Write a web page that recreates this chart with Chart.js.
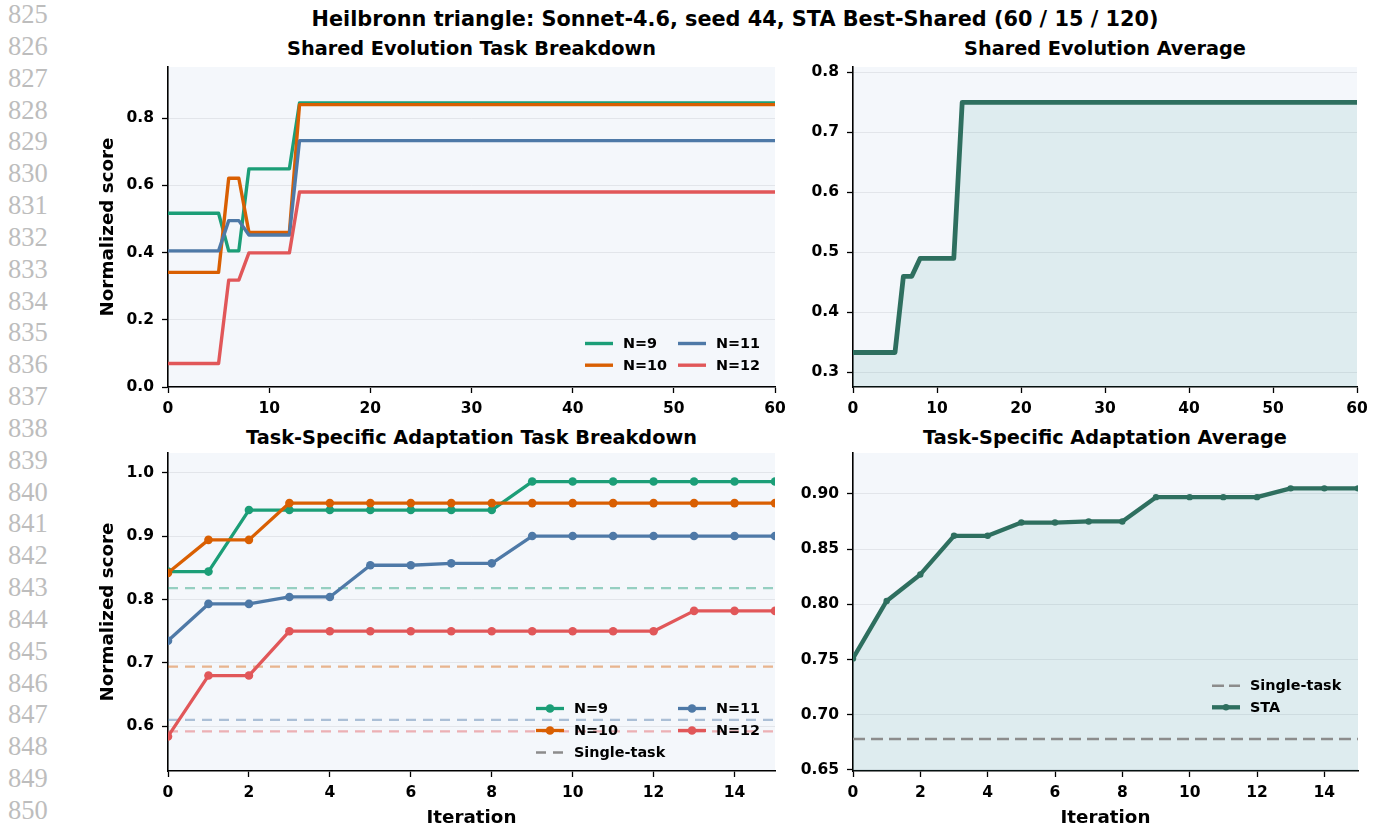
<!DOCTYPE html>
<html>
<head>
<meta charset="utf-8">
<script src="https://cdn.jsdelivr.net/npm/chart.js@4.4.1/dist/chart.umd.min.js"></script>
<style>
  body { margin: 0; width: 1380px; height: 831px; background: #fff; position: relative; overflow: hidden;
         font-family: "DejaVu Sans", sans-serif; }
  canvas { position: absolute; }
  .title { position: absolute; font-weight: bold; white-space: nowrap; line-height: 1;
           transform: translate(-50%, -50%); color: #000; }
  .suptitle { font-size: 20.8px; }
  .subtitle { font-size: 19.3px; }
  .lineno { position: absolute; left: 8px; font: 26.5px "Liberation Serif", serif; line-height: 26px;
            height: 26px; color: #bdbdbd; }
</style>
</head>
<body>
<div id="line-numbers"></div>

<div class="title suptitle" style="left:735px; top:19px">Heilbronn triangle: Sonnet-4.6, seed 44, STA Best-Shared (60 / 15 / 120)</div>
<div class="title subtitle" style="left:471.5px; top:48.5px">Shared Evolution Task Breakdown</div>
<div class="title subtitle" style="left:1105px; top:48.5px">Shared Evolution Average</div>
<div class="title subtitle" style="left:471.5px; top:437.5px">Task-Specific Adaptation Task Breakdown</div>
<div class="title subtitle" style="left:1105px; top:437.5px">Task-Specific Adaptation Average</div>

<canvas id="shared-breakdown" width="700" height="363" style="left:90px; top:57px"></canvas>
<canvas id="shared-average" width="582" height="363" style="left:795px; top:57px"></canvas>
<canvas id="sta-breakdown" width="700" height="388" style="left:90px; top:443px"></canvas>
<canvas id="sta-average" width="583" height="388" style="left:795px; top:443px"></canvas>

<script>
// Page line numbers in the margin
const LINE_NUMBERS = [825, 826, 827, 828, 829, 830, 831, 832, 833, 834, 835, 836, 837,
                      838, 839, 840, 841, 842, 843, 844, 845, 846, 847, 848, 849, 850];

// Task series
const SERIES_NAMES = ['N=9', 'N=10', 'N=11', 'N=12'];
const SERIES_COLORS = ['#1b9e77', '#d95f02', '#4e79a7', '#e15759'];
const AVG_COLOR = '#2e6f5f';

// Shared evolution (60 iterations)
const SHARED_ITERATIONS = [0, 1, 2, 3, 4, 5, 6, 7, 8, 9, 10, 11, 12, 13, 14, 15, 16, 17, 18, 19, 20,
    21, 22, 23, 24, 25, 26, 27, 28, 29, 30, 31, 32, 33, 34, 35, 36, 37, 38, 39, 40,
    41, 42, 43, 44, 45, 46, 47, 48, 49, 50, 51, 52, 53, 54, 55, 56, 57, 58, 59, 60];
const SHARED_N9 = [0.517, 0.517, 0.517, 0.517, 0.517, 0.517, 0.405, 0.405, 0.649, 0.649,
    0.649, 0.649, 0.649, 0.845, 0.845, 0.845, 0.845, 0.845, 0.845, 0.845,
    0.845, 0.845, 0.845, 0.845, 0.845, 0.845, 0.845, 0.845, 0.845, 0.845,
    0.845, 0.845, 0.845, 0.845, 0.845, 0.845, 0.845, 0.845, 0.845, 0.845,
    0.845, 0.845, 0.845, 0.845, 0.845, 0.845, 0.845, 0.845, 0.845, 0.845,
    0.845, 0.845, 0.845, 0.845, 0.845, 0.845, 0.845, 0.845, 0.845, 0.845, 0.845];
const SHARED_N10 = [0.341, 0.341, 0.341, 0.341, 0.341, 0.341, 0.621, 0.621, 0.460, 0.460,
    0.460, 0.460, 0.460, 0.840, 0.840, 0.840, 0.840, 0.840, 0.840, 0.840,
    0.840, 0.840, 0.840, 0.840, 0.840, 0.840, 0.840, 0.840, 0.840, 0.840,
    0.840, 0.840, 0.840, 0.840, 0.840, 0.840, 0.840, 0.840, 0.840, 0.840,
    0.840, 0.840, 0.840, 0.840, 0.840, 0.840, 0.840, 0.840, 0.840, 0.840,
    0.840, 0.840, 0.840, 0.840, 0.840, 0.840, 0.840, 0.840, 0.840, 0.840, 0.840];
const SHARED_N11 = [0.405, 0.405, 0.405, 0.405, 0.405, 0.405, 0.495, 0.495, 0.452, 0.452,
    0.452, 0.452, 0.452, 0.733, 0.733, 0.733, 0.733, 0.733, 0.733, 0.733,
    0.733, 0.733, 0.733, 0.733, 0.733, 0.733, 0.733, 0.733, 0.733, 0.733,
    0.733, 0.733, 0.733, 0.733, 0.733, 0.733, 0.733, 0.733, 0.733, 0.733,
    0.733, 0.733, 0.733, 0.733, 0.733, 0.733, 0.733, 0.733, 0.733, 0.733,
    0.733, 0.733, 0.733, 0.733, 0.733, 0.733, 0.733, 0.733, 0.733, 0.733, 0.733];
const SHARED_N12 = [0.070, 0.070, 0.070, 0.070, 0.070, 0.070, 0.318, 0.318, 0.399, 0.399,
    0.399, 0.399, 0.399, 0.580, 0.580, 0.580, 0.580, 0.580, 0.580, 0.580,
    0.580, 0.580, 0.580, 0.580, 0.580, 0.580, 0.580, 0.580, 0.580, 0.580,
    0.580, 0.580, 0.580, 0.580, 0.580, 0.580, 0.580, 0.580, 0.580, 0.580,
    0.580, 0.580, 0.580, 0.580, 0.580, 0.580, 0.580, 0.580, 0.580, 0.580,
    0.580, 0.580, 0.580, 0.580, 0.580, 0.580, 0.580, 0.580, 0.580, 0.580, 0.580];
const SHARED_AVG = [0.333, 0.333, 0.333, 0.333, 0.333, 0.333, 0.460, 0.460, 0.490, 0.490,
    0.490, 0.490, 0.490, 0.750, 0.750, 0.750, 0.750, 0.750, 0.750, 0.750,
    0.750, 0.750, 0.750, 0.750, 0.750, 0.750, 0.750, 0.750, 0.750, 0.750,
    0.750, 0.750, 0.750, 0.750, 0.750, 0.750, 0.750, 0.750, 0.750, 0.750,
    0.750, 0.750, 0.750, 0.750, 0.750, 0.750, 0.750, 0.750, 0.750, 0.750,
    0.750, 0.750, 0.750, 0.750, 0.750, 0.750, 0.750, 0.750, 0.750, 0.750, 0.750];

// Task-specific adaptation (15 iterations)
const STA_ITERATIONS = [0, 1, 2, 3, 4, 5, 6, 7, 8, 9, 10, 11, 12, 13, 14, 15];
const STA_N9  = [0.844, 0.844, 0.941, 0.941, 0.941, 0.941, 0.941, 0.941, 0.941, 0.986, 0.986, 0.986, 0.986, 0.986, 0.986, 0.986];
const STA_N10 = [0.842, 0.894, 0.894, 0.952, 0.952, 0.952, 0.952, 0.952, 0.952, 0.952, 0.952, 0.952, 0.952, 0.952, 0.952, 0.952];
const STA_N11 = [0.735, 0.793, 0.793, 0.804, 0.804, 0.854, 0.854, 0.857, 0.857, 0.900, 0.900, 0.900, 0.900, 0.900, 0.900, 0.900];
const STA_N12 = [0.584, 0.680, 0.680, 0.750, 0.750, 0.750, 0.750, 0.750, 0.750, 0.750, 0.750, 0.750, 0.750, 0.782, 0.782, 0.782];
const STA_AVG = [0.751, 0.803, 0.827, 0.862, 0.862, 0.874, 0.874, 0.875, 0.875, 0.897, 0.897, 0.897, 0.897, 0.905, 0.905, 0.905];
const SINGLE_TASK = [0.818, 0.694, 0.610, 0.592];
const SINGLE_TASK_AVG = 0.678;

// Tick values
const SHARED_X_TICKS = [0, 10, 20, 30, 40, 50, 60];
const STA_X_TICKS = [0, 2, 4, 6, 8, 10, 12, 14];
const SHARED_BREAKDOWN_Y_TICKS = [0.0, 0.2, 0.4, 0.6, 0.8];
const SHARED_AVG_Y_TICKS = [0.3, 0.4, 0.5, 0.6, 0.7, 0.8];
const STA_BREAKDOWN_Y_TICKS = [0.6, 0.7, 0.8, 0.9, 1.0];
const STA_AVG_Y_TICKS = [0.65, 0.70, 0.75, 0.80, 0.85, 0.90];

// Margin line numbers
const lineBox = document.getElementById('line-numbers');
LINE_NUMBERS.forEach((n, i) => {
    const div = document.createElement('div');
    div.className = 'lineno';
    div.style.top = (14 + i * 31.84 - 13) + 'px';
    div.textContent = n;
    lineBox.appendChild(div);
});

// Fills the axes area with the light background
const plotBackground = {
    id: 'plotBackground',
    beforeDraw(chart, args, opts) {
        const { ctx, chartArea: a } = chart;
        ctx.save();
        ctx.fillStyle = opts.color;
        ctx.fillRect(a.left, a.top, a.right - a.left, a.bottom - a.top);
        ctx.restore();
    }
};

// Frameless legend in the lower right corner, filled column by column
const cornerLegend = {
    id: 'cornerLegend',
    afterDatasetsDraw(chart, args, opts) {
        if (!opts || !opts.items) return;
        const { ctx, chartArea } = chart;
        const x0 = chartArea.right - opts.right;
        const y0 = chartArea.bottom - opts.bottom;
        ctx.save();
        ctx.font = 'bold 14.4px "DejaVu Sans"';
        ctx.textBaseline = 'middle';
        ctx.textAlign = 'left';
        opts.items.forEach((item, i) => {
            const x = x0 + Math.floor(i / opts.rows) * opts.colWidth;
            const y = y0 + (i % opts.rows) * opts.rowHeight;
            ctx.strokeStyle = item.color;
            ctx.lineWidth = item.width;
            ctx.setLineDash(item.dash || []);
            ctx.beginPath();
            ctx.moveTo(x, y);
            ctx.lineTo(x + 28, y);
            ctx.stroke();
            ctx.setLineDash([]);
            if (item.radius) {
                ctx.fillStyle = item.color;
                ctx.beginPath();
                ctx.arc(x + 14, y, item.radius, 0, Math.PI * 2);
                ctx.fill();
            }
            ctx.fillStyle = '#000';
            ctx.fillText(item.label, x + 38, y + 1);
        });
        ctx.restore();
    }
};

const tickFont = { family: '"DejaVu Sans"', size: 15.5, weight: 'bold' };
const labelFont = { family: '"DejaVu Sans"', size: 18.3, weight: 'bold', lineHeight: 1.2 };

function buildChart(canvasId, cfg) {
    return new Chart(document.getElementById(canvasId), {
        type: 'line',
        data: { labels: cfg.labels, datasets: cfg.datasets },
        options: {
            responsive: false,
            animation: false,
            devicePixelRatio: 1,
            layout: { padding: { top: 10, right: cfg.rightPad, left: 0, bottom: 0 } },
            elements: { line: { tension: 0, borderJoinStyle: 'round' } },
            plugins: {
                legend: { display: false },
                tooltip: { enabled: false },
                filler: { drawTime: 'beforeDatasetsDraw' },
                plotBackground: { color: '#f4f7fb' },
                cornerLegend: cfg.legend
            },
            scales: {
                x: {
                    type: 'linear',
                    min: cfg.xMin,
                    max: cfg.xMax,
                    bounds: 'data',
                    afterBuildTicks: s => { s.ticks = cfg.xTicks.map(v => ({ value: v })); },
                    afterFit: s => {
                        s.height = cfg.xAxisHeight;
                        s.paddingLeft = 0;
                        s.paddingRight = 0;
                    },
                    ticks: { autoSkip: false, maxRotation: 0, padding: 7, font: tickFont, color: '#000',
                             callback: v => String(v) },
                    grid: { drawOnChartArea: false, tickLength: 6, tickColor: '#000', tickWidth: 1.3 },
                    border: { color: '#000', width: 1.6 },
                    title: cfg.xTitle
                        ? { display: true, text: cfg.xTitle, font: labelFont, color: '#000', padding: { top: 0, bottom: 1.5 } }
                        : { display: false }
                },
                y: {
                    type: 'linear',
                    min: cfg.yMin,
                    max: cfg.yMax,
                    bounds: 'data',
                    afterBuildTicks: s => { s.ticks = cfg.yTicks.map(v => ({ value: v })); },
                    afterFit: s => {
                        s.width = cfg.yAxisWidth;
                        s.paddingTop = 0;
                        s.paddingBottom = 0;
                    },
                    ticks: { padding: 8, font: tickFont, color: '#000',
                             callback: v => v.toFixed(cfg.yDecimals) },
                    grid: { color: '#e2e5ea', lineWidth: 1, tickLength: 6, tickColor: '#000', tickWidth: 1.3 },
                    border: { color: '#000', width: 1.6 },
                    title: cfg.yTitle
                        ? { display: true, text: cfg.yTitle, font: labelFont, color: '#000', padding: { top: 7.5, bottom: 0 } }
                        : { display: false }
                }
            }
        },
        plugins: [plotBackground, cornerLegend]
    });
}

// Later series are drawn on top, like the original plotting order
function taskDatasets(seriesList, width, radius) {
    return seriesList.map((values, i) => ({
        label: SERIES_NAMES[i],
        data: values,
        borderColor: SERIES_COLORS[i],
        backgroundColor: SERIES_COLORS[i],
        borderWidth: width,
        pointRadius: radius,
        pointBorderWidth: 0,
        pointBackgroundColor: SERIES_COLORS[i],
        fill: false,
        order: seriesList.length - i
    }));
}

// Shared evolution task breakdown
buildChart('shared-breakdown', {
    labels: SHARED_ITERATIONS,
    datasets: taskDatasets([SHARED_N9, SHARED_N10, SHARED_N11, SHARED_N12], 3.4, 0),
    xMin: 0, xMax: 60, xTicks: SHARED_X_TICKS, xAxisHeight: 33,
    yMin: 0, yMax: 0.952, yTicks: SHARED_BREAKDOWN_Y_TICKS, yDecimals: 1, yAxisWidth: 78,
    yTitle: 'Normalized score', rightPad: 15,
    legend: {
        right: 190, bottom: 43.5, rows: 2, colWidth: 93, rowHeight: 21.7,
        items: [0, 1, 2, 3].map(i => ({ label: SERIES_NAMES[i], color: SERIES_COLORS[i], width: 3.4 }))
    }
});

// Shared evolution average
buildChart('shared-average', {
    labels: SHARED_ITERATIONS,
    datasets: [{
        label: 'Average',
        data: SHARED_AVG,
        borderColor: AVG_COLOR,
        backgroundColor: 'rgba(42, 157, 143, 0.11)',
        borderWidth: 4.8,
        pointRadius: 0,
        fill: 'start'
    }],
    xMin: 0, xMax: 60, xTicks: SHARED_X_TICKS, xAxisHeight: 33,
    yMin: 0.2755, yMax: 0.809, yTicks: SHARED_AVG_Y_TICKS, yDecimals: 1, yAxisWidth: 58,
    rightPad: 20
});

// Task-specific adaptation breakdown, with single-task baselines
const singleTaskDatasets = SINGLE_TASK.map((v, i) => ({
    label: 'Single-task ' + SERIES_NAMES[i],
    data: STA_ITERATIONS.map(() => v),
    borderColor: SERIES_COLORS[i] + '70',
    borderWidth: 2.2,
    borderDash: [10, 7],
    pointRadius: 0,
    fill: false,
    order: 10 + i
}));

buildChart('sta-breakdown', {
    labels: STA_ITERATIONS,
    datasets: taskDatasets([STA_N9, STA_N10, STA_N11, STA_N12], 3.3, 4.3).concat(singleTaskDatasets),
    xMin: 0, xMax: 15, xTicks: STA_X_TICKS, xAxisHeight: 60, xTitle: 'Iteration',
    yMin: 0.5295, yMax: 1.031, yTicks: STA_BREAKDOWN_Y_TICKS, yDecimals: 1, yAxisWidth: 78,
    yTitle: 'Normalized score', rightPad: 15,
    legend: {
        right: 239, bottom: 62.5, rows: 3, colWidth: 142, rowHeight: 22,
        items: [
            { label: SERIES_NAMES[0], color: SERIES_COLORS[0], width: 3.3, radius: 4.3 },
            { label: SERIES_NAMES[1], color: SERIES_COLORS[1], width: 3.3, radius: 4.3 },
            { label: 'Single-task', color: '#8c8c8c', width: 2.4, dash: [10, 7] },
            { label: SERIES_NAMES[2], color: SERIES_COLORS[2], width: 3.3, radius: 4.3 },
            { label: SERIES_NAMES[3], color: SERIES_COLORS[3], width: 3.3, radius: 4.3 }
        ]
    }
});

// Task-specific adaptation average
buildChart('sta-average', {
    labels: STA_ITERATIONS,
    datasets: [{
        label: 'STA',
        data: STA_AVG,
        borderColor: AVG_COLOR,
        backgroundColor: 'rgba(42, 157, 143, 0.11)',
        borderWidth: 4.3,
        pointRadius: 3.2,
        pointBorderWidth: 0,
        pointBackgroundColor: AVG_COLOR,
        fill: 'start',
        order: 0
    }, {
        label: 'Single-task',
        data: STA_ITERATIONS.map(() => SINGLE_TASK_AVG),
        borderColor: '#8c8c8c',
        borderWidth: 2.4,
        borderDash: [12, 6],
        pointRadius: 0,
        fill: false,
        order: 1
    }],
    xMin: 0, xMax: 15, xTicks: STA_X_TICKS, xAxisHeight: 60, xTitle: 'Iteration',
    yMin: 0.649, yMax: 0.937, yTicks: STA_AVG_Y_TICKS, yDecimals: 2, yAxisWidth: 58,
    rightPad: 20,
    legend: {
        right: 146, bottom: 85.3, rows: 2, colWidth: 0, rowHeight: 21.6,
        items: [
            { label: 'Single-task', color: '#8c8c8c', width: 2.4, dash: [12, 5] },
            { label: 'STA', color: AVG_COLOR, width: 4.3, radius: 3.2 }
        ]
    }
});
</script>
</body>
</html>
